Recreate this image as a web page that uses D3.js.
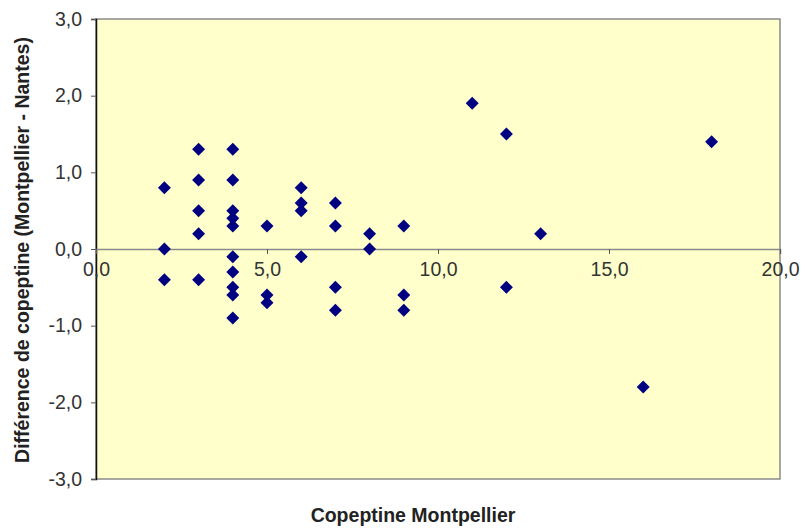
<!DOCTYPE html>
<html>
<head>
<meta charset="utf-8">
<script src="https://cdn.jsdelivr.net/npm/d3@7"></script>
<style>
  html, body { margin: 0; padding: 0; background: #ffffff; }
  svg { display: block; }
  text { font-family: "Liberation Sans", Arial, sans-serif; }
</style>
</head>
<body>
<svg id="chart" width="806" height="531"></svg>
<script>
// Data: Copeptine Montpellier (x) vs difference Montpellier - Nantes (y)
const xValues = [2, 2, 2,
  3, 3, 3, 3, 3,
  4, 4, 4, 4, 4, 4, 4, 4, 4, 4,
  5, 5, 5,
  6, 6, 6, 6,
  7, 7, 7, 7,
  8, 8,
  9, 9, 9,
  11, 12, 12, 13, 16, 18];
const yValues = [0.8, 0.0, -0.4,
  1.3, 0.9, 0.5, 0.2, -0.4,
  1.3, 0.9, 0.5, 0.4, 0.3, -0.1, -0.3, -0.5, -0.6, -0.9,
  0.3, -0.6, -0.7,
  0.8, 0.6, 0.5, -0.1,
  0.6, 0.3, -0.5, -0.8,
  0.2, 0.0,
  0.3, -0.6, -0.8,
  1.9, 1.5, -0.5, 0.2, -1.8, 1.4];
const xTicks = [0, 5, 10, 15, 20];
const yTicks = [3, 2, 1, 0, -1, -2, -3];
const xTitle = "Copeptine Montpellier";
const yTitle = "Différence de copeptine (Montpellier - Nantes)";

(function () {
const points = xValues.map((x, i) => ({ x, y: yValues[i] }));
const fmt = v => d3.format(".1f")(v).replace(".", ",").replace("\u2212", "-");

const svg = d3.select("#chart");
const pl = 96, pr = 780, pt = 19, pb = 479;

const x = d3.scaleLinear().domain([0, 20]).range([pl, pr]);
const y = d3.scaleLinear().domain([-3, 3]).range([pb, pt]);

// plot area
svg.append("rect")
  .attr("x", pl).attr("y", pt)
  .attr("width", pr - pl).attr("height", pb - pt)
  .attr("fill", "#FFFFCC")
  .attr("stroke", "#8a8a8a").attr("stroke-width", 1.5);

// y axis
const yAxis = d3.axisLeft(y).tickValues(yTicks).tickFormat(fmt).tickSize(5).tickPadding(9);
const gy = svg.append("g").attr("transform", `translate(${pl},0)`).call(yAxis);
gy.select(".domain").attr("stroke", "#111").attr("stroke-width", 1.5);
gy.selectAll(".tick line").attr("stroke", "#555");
gy.selectAll(".tick text").attr("fill", "#333").style("font-size", "19.5px")
  .style("font-family", "'Liberation Sans', Arial, sans-serif");

// x axis at zero
const xAxis = d3.axisBottom(x).tickValues(xTicks).tickFormat(fmt).tickSize(5).tickPadding(8);
const gx = svg.append("g").attr("transform", `translate(0,${y(0)})`).call(xAxis);
gx.select(".domain").attr("stroke", "#8a8a8a").attr("stroke-width", 1.5);
gx.selectAll(".tick line").attr("stroke", "#555");
gx.selectAll(".tick text").attr("fill", "#333").style("font-size", "19.5px")
  .style("font-family", "'Liberation Sans', Arial, sans-serif");

// points (diamonds)
svg.append("g").selectAll("path").data(points).enter().append("path")
  .attr("d", d3.symbol().type(d3.symbolSquare).size(84))
  .attr("transform", d => `translate(${x(d.x)},${y(d.y)}) rotate(45)`)
  .attr("fill", "#000080");

// titles
svg.append("text")
  .attr("x", 413).attr("y", 522)
  .attr("text-anchor", "middle")
  .style("font-size", "19.5px").style("font-weight", "bold").attr("fill", "#222")
  .text(xTitle);

svg.append("text")
  .attr("transform", `translate(29,${(pt + pb) / 2 + 1}) rotate(-90)`)
  .attr("text-anchor", "middle")
  .style("font-size", "19.5px").style("font-weight", "bold").attr("fill", "#222")
  .text(yTitle);
})();
</script>
</body>
</html>
